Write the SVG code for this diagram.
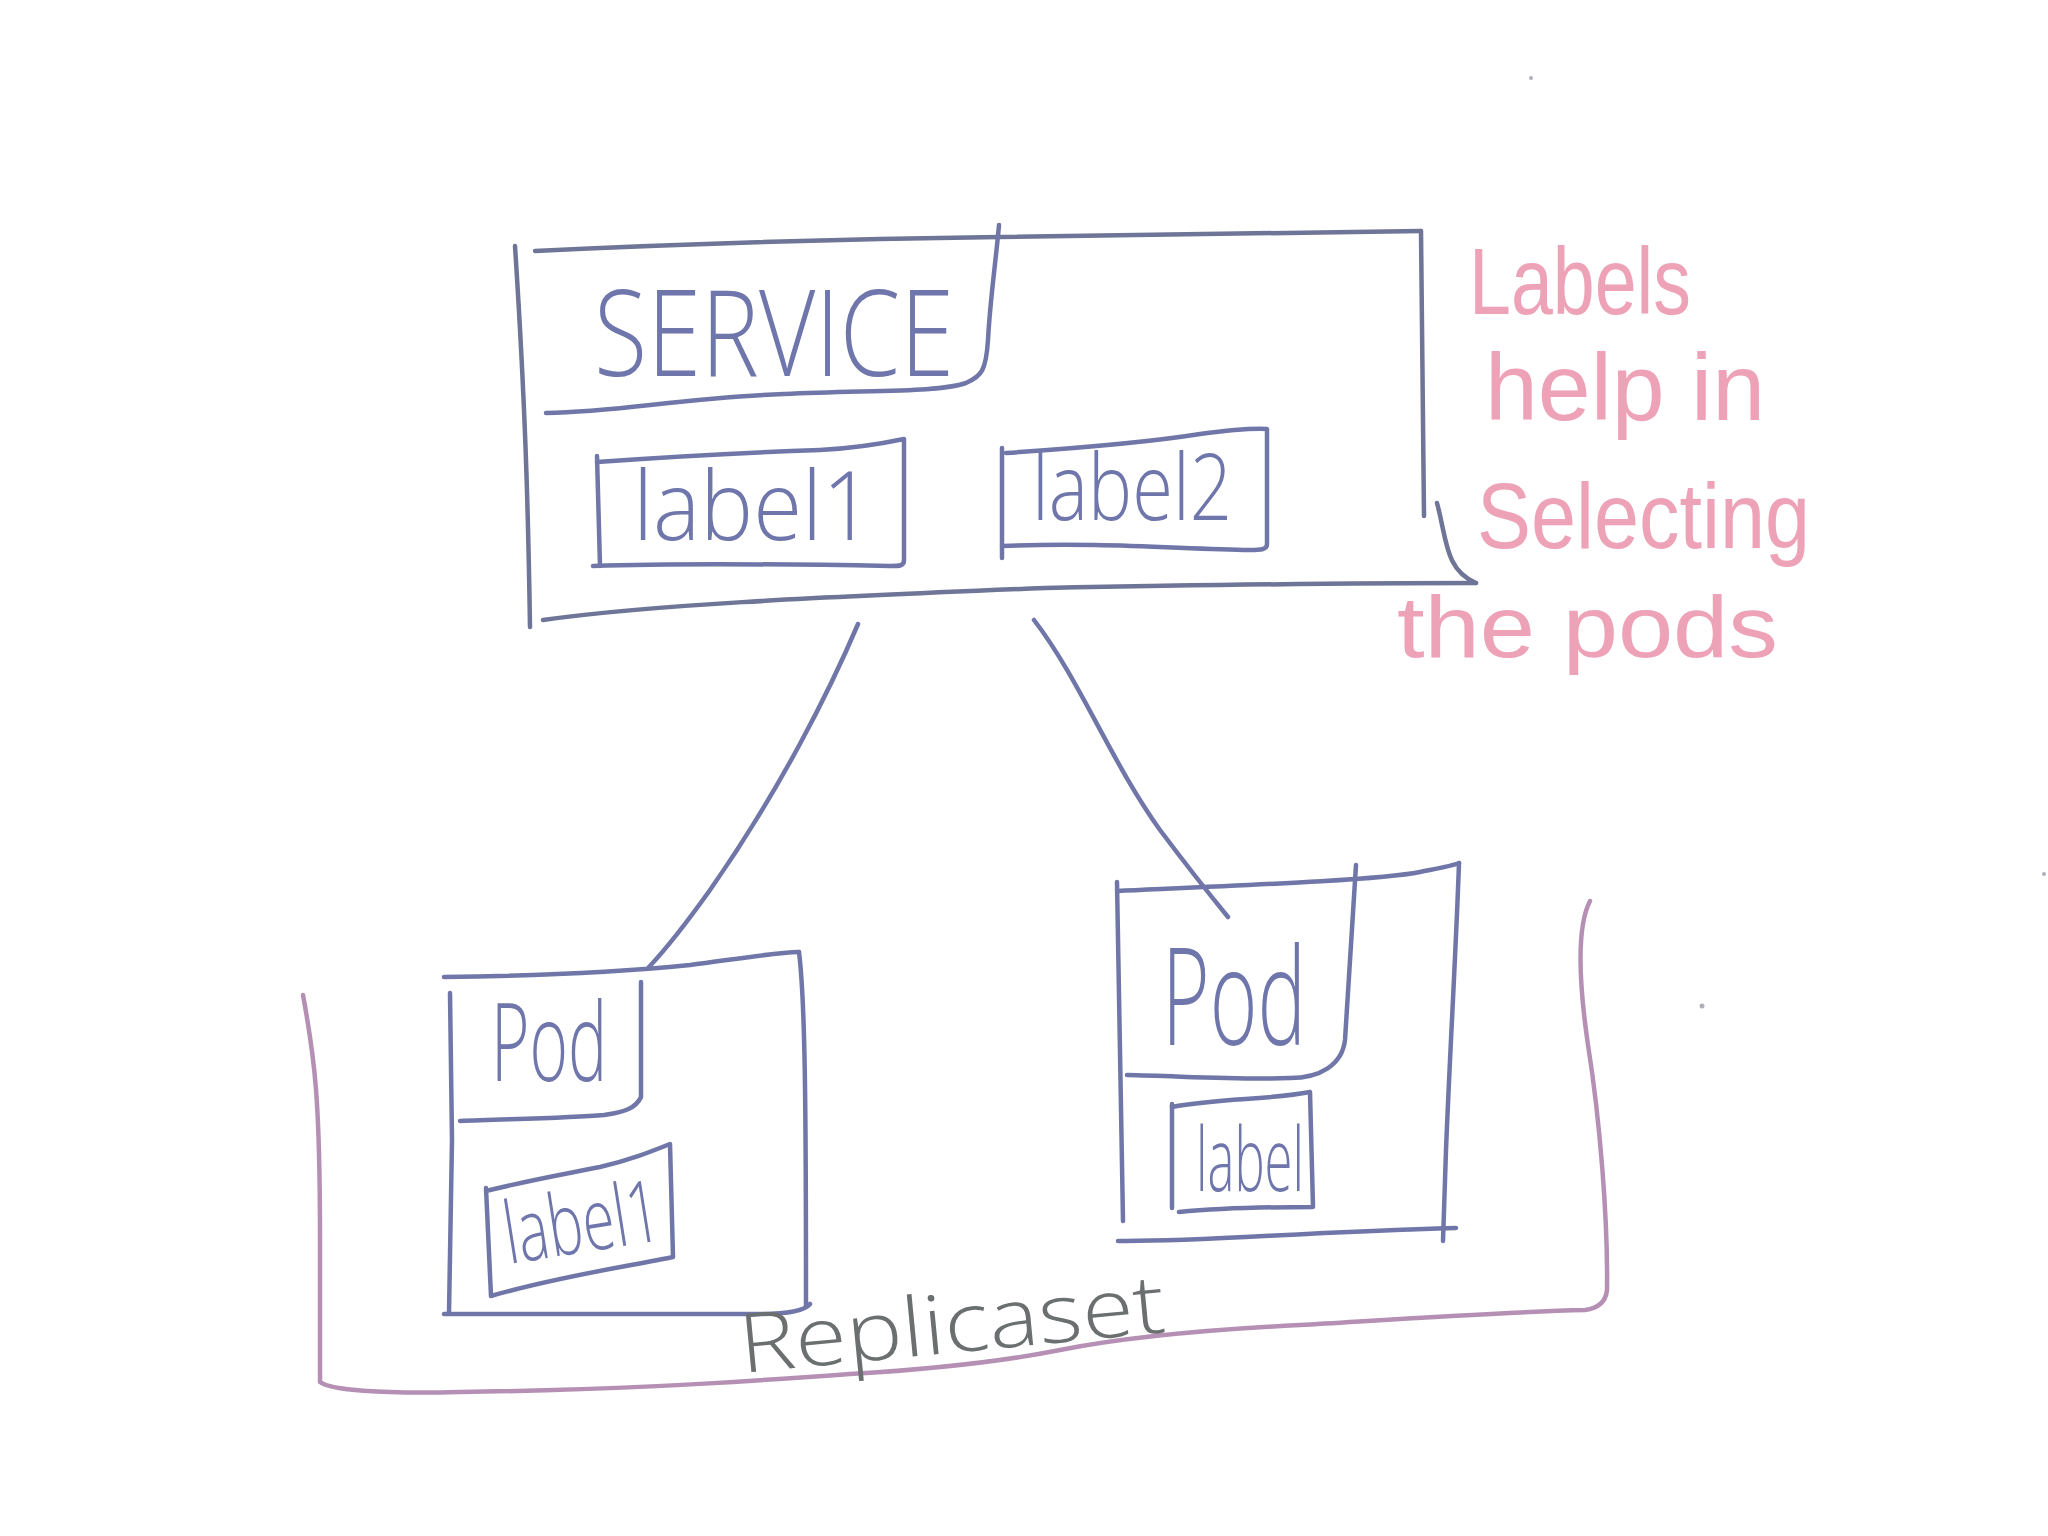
<svg xmlns="http://www.w3.org/2000/svg" width="2048" height="1536" viewBox="0 0 2048 1536">
<style>
.ln{fill:none;stroke:#7077a8;stroke-width:4.5;stroke-linecap:round;stroke-linejoin:round}
.sv{stroke:#6e7596}
.rs{fill:none;stroke:#b590b4;stroke-width:4.5;stroke-linecap:round;stroke-linejoin:round}
.tx{font-family:"Open Sans","Liberation Sans",Arial,sans-serif;font-weight:300;fill:#6f76ab}
.pk{font-family:"Liberation Sans",Arial,sans-serif;fill:#eea2b8}
.gr{font-family:"Open Sans","Liberation Sans",Arial,sans-serif;font-weight:300;fill:#6b6f70}
</style>
<rect width="2048" height="1536" fill="#ffffff"/>
<g id="service">
<path class="ln sv" d="M535,251 Q760,240 999,237 L1421,231"/>
<path class="ln sv" d="M515,246 C525,400 528,500 530,627"/>
<path class="ln sv" d="M1421,231 C1422,350 1424,450 1424,516"/>
<path class="ln sv" d="M543,620 C650,605 800,598 1045,588 C1250,584 1400,583 1476,583"/>
<path class="ln sv" d="M1437,503 C1447,540 1445,570 1476,583"/>
<path class="ln" d="M999,225 C996,260 990,300 988,340 C986,370 982,376 966,383 C940,392 880,390 784,394 C680,398 620,412 546,413"/>
<text class="tx" x="594" y="376" font-size="120" textLength="360" lengthAdjust="spacingAndGlyphs">SERVICE</text>
</g>
<g id="service-label1">
<path class="ln" d="M597,462 C680,456 760,452 820,450 C860,448 885,443 904,439 L904,560 C904,566 900,566 890,566 C780,564 680,563 593,566"/>
<path class="ln" d="M597,456 L600,566"/>
<text class="tx" x="633" y="540" font-size="96" textLength="240" lengthAdjust="spacingAndGlyphs">label1</text>
</g>
<g id="service-label2">
<path class="ln" d="M1006,453 C1080,448 1150,442 1200,434 C1230,430 1250,428 1267,429 L1267,544 C1267,550 1260,550 1250,550 C1180,549 1100,542 1002,546"/>
<path class="ln" d="M1002,448 L1002,558"/>
<text class="tx" x="1032" y="520" font-size="92" textLength="200" lengthAdjust="spacingAndGlyphs">label2</text>
</g>
<g id="pod1">
<path class="ln" d="M444,977 C540,976 620,972 690,965 C730,960 770,953 799,952"/>
<path class="ln" d="M450,993 L452,1140 L449,1313"/>
<path class="ln" d="M799,952 C805,1000 806,1100 806,1306"/>
<path class="ln" d="M444,1314 L760,1314 C790,1314 805,1310 810,1304"/>
<path class="ln" d="M641,982 L641,1097 C636,1108 625,1112 604,1115 C570,1118 510,1119 460,1121"/>
<text class="tx" x="491" y="1081" font-size="108" textLength="116" lengthAdjust="spacingAndGlyphs">Pod</text>
</g>
<g id="pod1-label">
<path class="ln" d="M486,1191 C530,1180 560,1175 600,1167 C630,1160 650,1152 670,1144 L673,1257 C630,1266 560,1276 491,1296 L486,1188"/>
<text class="tx" x="509" y="1264" font-size="86" textLength="157" lengthAdjust="spacingAndGlyphs" transform="rotate(-9 509 1264)">label1</text>
</g>
<g id="pod2">
<path class="ln" d="M1117,891 C1250,885 1380,880 1420,872 C1440,868 1452,866 1459,863"/>
<path class="ln" d="M1117,882 L1123,1221"/>
<path class="ln" d="M1459,863 C1456,950 1450,1050 1446,1150 L1443,1241"/>
<path class="ln" d="M1118,1241 C1200,1242 1300,1232 1456,1228"/>
<path class="ln" d="M1356,865 L1345,1040 C1342,1065 1320,1078 1290,1078 C1240,1080 1180,1076 1127,1075"/>
<text class="tx" x="1162" y="1045" font-size="135" textLength="144" lengthAdjust="spacingAndGlyphs">Pod</text>
</g>
<g id="pod2-label">
<path class="ln" d="M1172,1107 C1220,1098 1270,1100 1310,1092 L1313,1207 C1270,1207 1220,1208 1179,1212"/>
<path class="ln" d="M1172,1104 L1172,1208"/>
<text class="tx" x="1196" y="1191" font-size="88" textLength="108" lengthAdjust="spacingAndGlyphs">label</text>
</g>
<g id="replicaset">
<path class="rs" d="M303,995 C315,1060 320,1100 320,1240 L320,1382 C330,1390 380,1394 460,1392 C600,1390 700,1385 850,1374 C950,1368 1010,1360 1060,1350 C1120,1338 1200,1330 1300,1325 C1400,1319 1500,1312 1585,1310 C1600,1308 1606,1300 1607,1290 C1608,1220 1600,1120 1588,1045 C1580,990 1575,930 1590,901"/>
<text class="gr" x="742" y="1373" font-size="82" textLength="427" lengthAdjust="spacingAndGlyphs" transform="rotate(-5.5 742 1373)">Replicaset</text>
</g>
<g id="note">
<text class="pk" x="1469" y="314" font-size="94" textLength="222" lengthAdjust="spacingAndGlyphs">Labels</text>
<text class="pk" x="1485" y="420" font-size="94" textLength="280" lengthAdjust="spacingAndGlyphs">help in</text>
<text class="pk" x="1477" y="548" font-size="92" textLength="333" lengthAdjust="spacingAndGlyphs">Selecting</text>
<text class="pk" x="1397" y="657" font-size="88" textLength="381" lengthAdjust="spacingAndGlyphs">the pods</text>
</g>
<g id="connectors">
<path class="ln" d="M858,624 C830,690 780,790 710,890 C685,925 665,950 649,967"/>
<path class="ln" d="M1034,620 C1080,680 1110,760 1160,830 C1190,870 1210,895 1228,917"/>
</g>
<g id="specks" fill="#b0b0b8">
<circle cx="1531" cy="78" r="2"/>
<circle cx="1702" cy="1006" r="2.5"/>
<circle cx="2044" cy="874" r="2"/>
</g>
</svg>
